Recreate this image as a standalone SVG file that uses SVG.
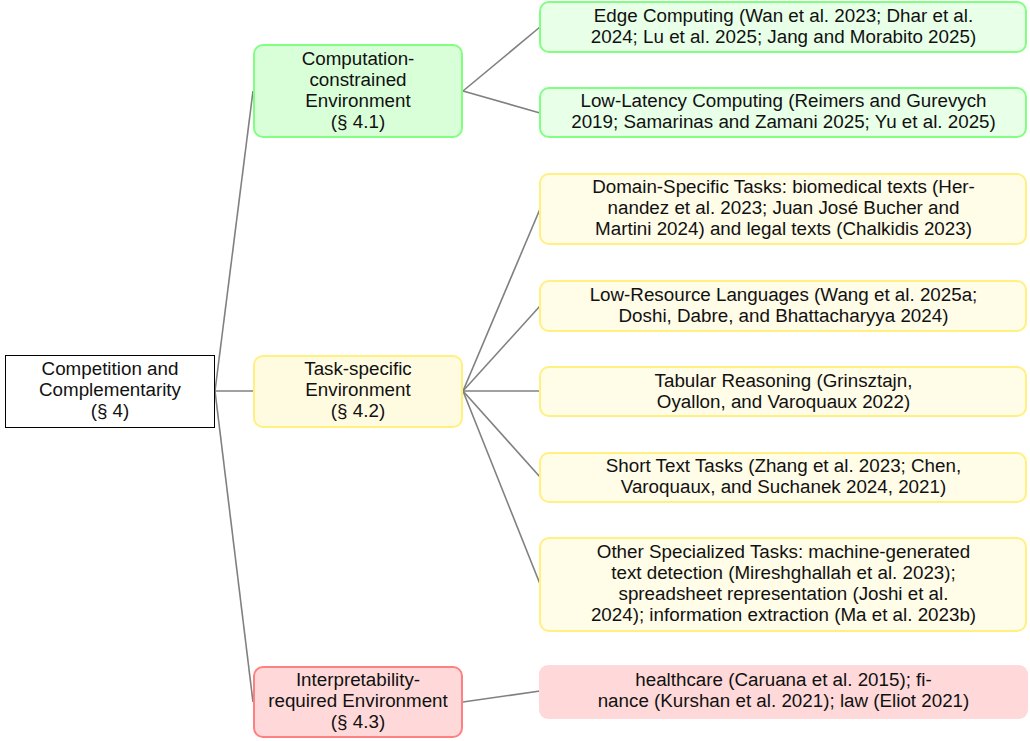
<svg xmlns="http://www.w3.org/2000/svg" width="1030" height="741" viewBox="0 0 1030 741">
<style>
text{font-family:"Liberation Sans",Arial,sans-serif;font-size:18.8px;fill:#111;text-anchor:middle}
.edge{stroke:#808080;stroke-width:1.6;fill:none}
.root{fill:#fff;stroke:#000;stroke-width:1}
.gm{fill:#d9ffd9;stroke:#80ff80;stroke-width:2}
.gl{fill:#e8ffe8;stroke:#80ff80;stroke-width:2}
.ym{fill:#fffbe0;stroke:#fff080;stroke-width:2}
.yl{fill:#fffce8;stroke:#fff080;stroke-width:2}
.rm{fill:#ffd9d9;stroke:#ff8080;stroke-width:2}
.rl{fill:#ffd9d9;stroke:none}
</style>
<rect width="1030" height="741" fill="#fff"/>
<g id="connectors">
<path class="edge" d="M215,391 L253,91"/>
<path class="edge" d="M215,391 L253,391"/>
<path class="edge" d="M215,391 L253,702"/>
<path class="edge" d="M463,91 L540,27"/>
<path class="edge" d="M463,91 L540,113"/>
<path class="edge" d="M463,391 L540,209"/>
<path class="edge" d="M463,391 L540,306"/>
<path class="edge" d="M463,391 L540,391"/>
<path class="edge" d="M463,391 L540,477"/>
<path class="edge" d="M463,391 L540,584"/>
<path class="edge" d="M463,702 L540,691"/>
</g>
<g id="root">
<rect class="root" x="5.5" y="355.5" width="209" height="72"/>
<text x="110" y="375">Competition and</text>
<text x="110" y="396">Complementarity</text>
<text x="110" y="417">(§ 4)</text>
</g>
<g id="computation">
<rect class="gm" x="254" y="45" width="208" height="92" rx="9"/>
<text x="358" y="65">Computation-</text>
<text x="358" y="86">constrained</text>
<text x="358" y="107">Environment</text>
<text x="358" y="128">(§ 4.1)</text>
</g>
<g id="task">
<rect class="ym" x="254" y="356" width="208" height="71" rx="9"/>
<text x="358" y="375">Task-specific</text>
<text x="358" y="396">Environment</text>
<text x="358" y="417">(§ 4.2)</text>
</g>
<g id="interp">
<rect class="rm" x="254" y="667" width="208" height="70" rx="9"/>
<text x="358" y="686">Interpretability-</text>
<text x="358" y="707">required Environment</text>
<text x="358" y="728">(§ 4.3)</text>
</g>
<g id="edge-computing">
<rect class="gl" x="540" y="2" width="486" height="50" rx="9"/>
<text x="783.5" y="22">Edge Computing (Wan et al. 2023; Dhar et al.</text>
<text x="783.5" y="43">2024; Lu et al. 2025; Jang and Morabito 2025)</text>
</g>
<g id="low-latency">
<rect class="gl" x="540" y="88" width="486" height="49" rx="9"/>
<text x="783.5" y="107">Low-Latency Computing (Reimers and Gurevych</text>
<text x="783.5" y="128">2019; Samarinas and Zamani 2025; Yu et al. 2025)</text>
</g>
<g id="domain">
<rect class="yl" x="540" y="174" width="486" height="70" rx="9"/>
<text x="783.5" y="193">Domain-Specific Tasks: biomedical texts (Her-</text>
<text x="783.5" y="214">nandez et al. 2023; Juan José Bucher and</text>
<text x="783.5" y="235">Martini 2024) and legal texts (Chalkidis 2023)</text>
</g>
<g id="low-resource">
<rect class="yl" x="540" y="281" width="486" height="50" rx="9"/>
<text x="783.5" y="301">Low-Resource Languages (Wang et al. 2025a;</text>
<text x="783.5" y="322">Doshi, Dabre, and Bhattacharyya 2024)</text>
</g>
<g id="tabular">
<rect class="yl" x="540" y="367" width="486" height="49" rx="9"/>
<text x="783.5" y="387">Tabular Reasoning (Grinsztajn,</text>
<text x="783.5" y="408">Oyallon, and Varoquaux 2022)</text>
</g>
<g id="short-text">
<rect class="yl" x="540" y="453" width="486" height="49" rx="9"/>
<text x="783.5" y="472">Short Text Tasks (Zhang et al. 2023; Chen,</text>
<text x="783.5" y="493">Varoquaux, and Suchanek 2024, 2021)</text>
</g>
<g id="other">
<rect class="yl" x="540" y="538" width="486" height="93" rx="9"/>
<text x="783.5" y="558">Other Specialized Tasks: machine-generated</text>
<text x="783.5" y="579">text detection (Mireshghallah et al. 2023);</text>
<text x="783.5" y="600">spreadsheet representation (Joshi et al.</text>
<text x="783.5" y="621">2024); information extraction (Ma et al. 2023b)</text>
</g>
<g id="healthcare">
<rect class="rl" x="539" y="665" width="489" height="54" rx="9"/>
<text x="783.5" y="686">healthcare (Caruana et al. 2015); fi-</text>
<text x="783.5" y="707">nance (Kurshan et al. 2021); law (Eliot 2021)</text>
</g>
</svg>
